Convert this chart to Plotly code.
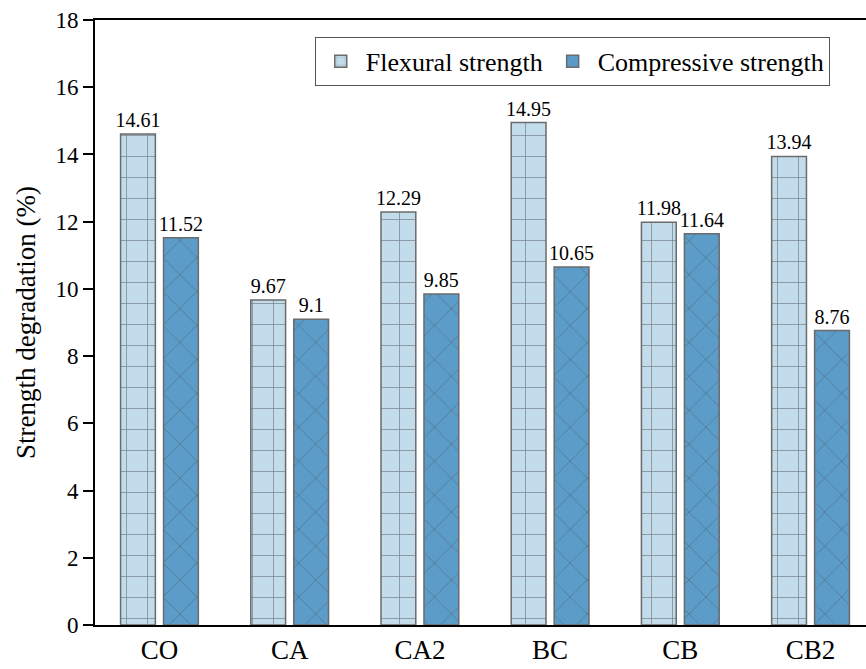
import plotly.graph_objects as go

categories = ["CO", "CA", "CA2", "BC", "CB", "CB2"]
flexural = [14.61, 9.67, 12.29, 14.95, 11.98, 13.94]
compressive = [11.52, 9.1, 9.85, 10.65, 11.64, 8.76]
flex_labels = ["14.61", "9.67", "12.29", "14.95", "11.98", "13.94"]
comp_labels = ["11.52", "9.1", "9.85", "10.65", "11.64", "8.76"]
y_ticks = [0, 2, 4, 6, 8, 10, 12, 14, 16, 18]

FONT = "Liberation Serif"

fig = go.Figure()
fig.add_trace(go.Bar(
    name="Flexural strength", x=categories, y=flexural,
    text=flex_labels, textposition="outside",
    textfont=dict(size=20, color="black", family=FONT),
    marker=dict(color="#c3dcec", line=dict(color="#6b6b6b", width=1.5),
                pattern=dict(shape="+", size=21, solidity=0.07, fgcolor="#303030",
                             fillmode="overlay")),
    cliponaxis=False,
))
fig.add_trace(go.Bar(
    name="Compressive strength", x=categories, y=compressive,
    text=comp_labels, textposition="outside",
    textfont=dict(size=20, color="black", family=FONT),
    marker=dict(color="#5b9cc9", line=dict(color="#6b6b6b", width=1.5),
                pattern=dict(shape="x", size=24, solidity=0.06, fgcolor="#4a4a4a",
                             fillmode="overlay")),
    cliponaxis=False,
))

fig.update_layout(
    width=866, height=669,
    margin=dict(l=95, r=0, t=20, b=44),
    paper_bgcolor="white", plot_bgcolor="white",
    barmode="group", bargap=0.34, bargroupgap=0.19,
    font=dict(family=FONT, color="black"),
    uniformtext=dict(minsize=20, mode="show"),
    showlegend=True,
    legend=dict(
        x=0.285, y=0.972, xanchor="left", yanchor="top",
        orientation="h", bordercolor="#555555", borderwidth=1,
        font=dict(size=26, family=FONT, color="black"),
        bgcolor="white", itemwidth=40, tracegroupgap=0,
    ),
    xaxis=dict(
        range=[-0.495, 5.426], showline=True, linecolor="black", linewidth=2,
        mirror=True, ticks="", tickfont=dict(size=27, family=FONT, color="black"),
        showgrid=False, zeroline=False, ticklabelstandoff=0, automargin=False,
    ),
    yaxis=dict(
        range=[0, 18], tickvals=y_ticks, showline=True, linecolor="black",
        linewidth=2, ticks="outside", ticklen=10, tickwidth=2, tickcolor="black",
        tickfont=dict(size=23, family=FONT, color="black"), showgrid=False,
        zeroline=False, automargin=False,
        title=dict(text="Strength degradation (%)", font=dict(size=27, family=FONT, color="black"),
                   standoff=12),
    ),
)

fig.write_html("out.html")
